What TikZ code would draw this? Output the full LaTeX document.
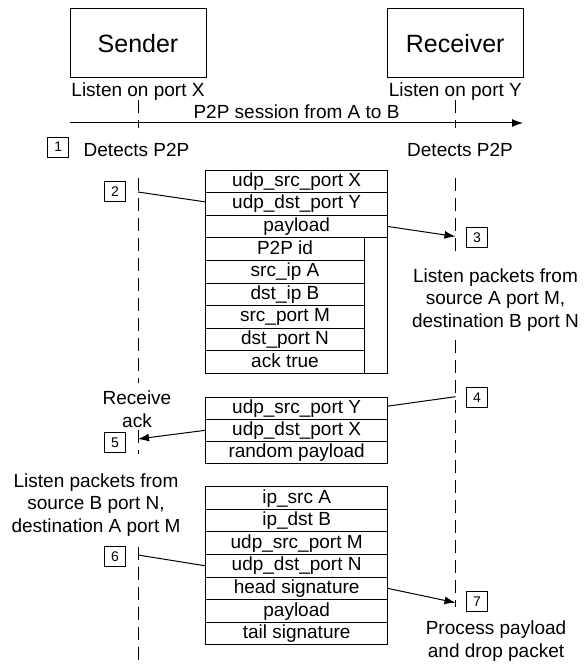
\documentclass[tikz,border=0pt]{standalone}
\usepackage{fontspec}
\setmainfont{Liberation Sans}
\usetikzlibrary{arrows.meta}
\begin{document}
\begin{tikzpicture}[x=1pt,y=-1pt,
  actor/.style={draw, line width=1pt, minimum width=136pt, minimum height=69pt, inner sep=0pt, font=\fontsize{25}{30}\selectfont},
  lbl/.style={font=\fontsize{19}{22.5}\selectfont, inner sep=0pt, anchor=base},
  fld/.style={draw, line width=1pt, inner sep=0pt, minimum height=22.6pt, text height=14pt, text depth=4pt, font=\fontsize{19}{22}\selectfont},
  wide/.style={fld, minimum width=181.7pt},
  narrow/.style={fld, minimum width=158.4pt},
  num/.style={draw, line width=0.9pt, minimum width=21pt, minimum height=20pt, inner sep=0pt, font=\fontsize{14}{16}\selectfont},
  life/.style={line width=1pt, dash pattern=on 13pt off 7pt},
  conn/.style={line width=1pt},
  arr/.style={conn, -{Latex[length=11pt,width=8pt]}}]
\fill[white] (0,0) rectangle (588,666);
\useasboundingbox (0,0) rectangle (588,666);

% actors
\node[actor] (snd) at (138,43.5) {Sender};
\node[actor] (rcv) at (455.25,43.5) {Receiver};
\node[lbl] (lx) at (138,96.7) {Listen on port X};
\node[lbl] (ly) at (455.3,96.7) {Listen on port Y};

% lifelines
\coordinate (s1) at (138,100); \coordinate (s2) at (138,128);
\coordinate (s3) at (138,178); \coordinate (s4) at (138,383);
\coordinate (s5) at (138,430); \coordinate (s6) at (138,454);
\coordinate (s7) at (138,547); \coordinate (s8) at (138,666);
\coordinate (r1) at (455.5,100); \coordinate (r2) at (455.5,128);
\coordinate (r3) at (455.5,178); \coordinate (r4) at (455.5,258);
\coordinate (r5) at (455.5,340); \coordinate (r6) at (455.5,607);
\draw[life] (s1) -- (s2); \draw[life] (s3) -- (s4);
\draw[life] (s5) -- (s6); \draw[life] (s7) -- (s8);
\draw[life] (r1) -- (r2); \draw[life] (r3) -- (r4);
\draw[life] (r5) -- (r6);

% session arrow
\coordinate (sa) at (70,123); \coordinate (sb) at (523,123);
\draw[arr] (sa) -- (sb);
\node[lbl] (sess) at (296.5,118) {P2P session from A to B};

% step 1
\node[num] (n1) at (58.3,147) {1};
\node[lbl] (d1) at (136.5,156) {Detects P2P};
\node[lbl] (d2) at (460,156) {Detects P2P};

% packet 1
\node[wide] (p1a) at (296.65,181.3) {udp\_src\_port X};
\node[wide] (p1b) at (296.65,203.9) {udp\_dst\_port Y};
\node[wide] (p1c) at (296.65,226.5) {payload};
\node[draw, line width=1pt, minimum width=181.7pt, minimum height=135.6pt, inner sep=0pt] (p1box) at (296.65,305.6) {};
\node[narrow] (p1d) at (285,249.1) {P2P id};
\node[narrow] (p1e) at (285,271.7) {src\_ip A};
\node[narrow] (p1f) at (285,294.3) {dst\_ip B};
\node[narrow] (p1g) at (285,316.9) {src\_port M};
\node[narrow] (p1h) at (285,339.5) {dst\_port N};
\node[narrow] (p1i) at (285,362.1) {ack true};

% packet 2
\node[wide, minimum height=22.2pt] (p2a) at (296.65,408.1) {udp\_src\_port Y};
\node[wide, minimum height=22.2pt] (p2b) at (296.65,430.3) {udp\_dst\_port X};
\node[wide, minimum height=22.2pt] (p2c) at (296.65,452.5) {random payload};

% packet 3
\node[wide] (p3a) at (296.65,498) {ip\_src A};
\node[wide] (p3b) at (296.65,520.6) {ip\_dst B};
\node[wide] (p3c) at (296.65,543.2) {udp\_src\_port M};
\node[wide] (p3d) at (296.65,565.8) {udp\_dst\_port N};
\node[wide] (p3e) at (296.65,588.4) {head signature};
\node[wide] (p3f) at (296.65,611) {payload};
\node[wide] (p3g) at (296.65,633.6) {tail signature};

% step boxes
\node[num] (n2) at (115,191.4) {2};
\node[num] (n3) at (477,237.2) {3};
\node[num] (n4) at (477,397.5) {4};
\node[num] (n5) at (115,442.5) {5};
\node[num] (n6) at (115,556.3) {6};
\node[num] (n7) at (477,601.7) {7};

% texts (base = baseline of last line)
\node[lbl, align=center] (t3) at (495.5,327) {Listen packets from\\source A port M,\\destination B port N};
\node[lbl, align=center] (t5) at (137,427) {Receive\\ack};
\node[lbl, align=center] (t6) at (96,532) {Listen packets from\\source B port N,\\destination A port M};
\node[lbl, align=center] (t7) at (496,657) {Process payload\\and drop packet};

% connectors
\coordinate (c2) at (138,192);
\coordinate (c3) at (455.5,236.5);
\coordinate (c4) at (455.5,396.7);
\coordinate (c5) at (138,439);
\coordinate (c6) at (138,555);
\coordinate (c7) at (455.5,602.7);
\draw[conn] (c2) -- ([yshift=2pt]p1b.west);
\draw[arr] (p1c.east) -- (c3);
\draw[conn] (c4) -- ([yshift=2pt]p2a.east);
\draw[arr] (p2b.west) -- (c5);
\draw[conn] (c6) -- (p3d.west);
\draw[arr] (p3e.east) -- (c7);
\end{tikzpicture}
\end{document}
